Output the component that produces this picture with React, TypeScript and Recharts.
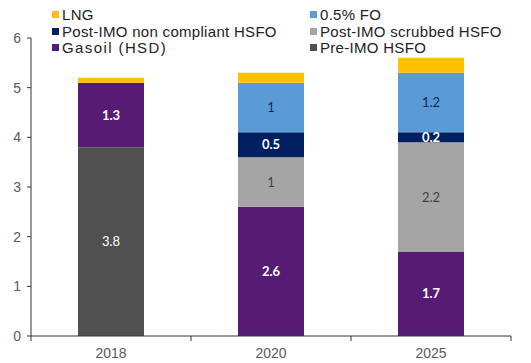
import React from 'react';
import { BarChart, Bar, XAxis, YAxis, LabelList, Legend } from 'recharts';

const categories = ['2018', '2020', '2025'];
const preImoHsfo = [3.8, null, null];
const gasoil = [1.3, 2.6, 1.7];
const scrubbedHsfo = [null, 1, 2.2];
const nonCompliantHsfo = [null, 0.5, 0.2];
const fo05 = [null, 1, 1.2];
const lng = [0.1, 0.2, 0.3];
const yTicks = [0, 1, 2, 3, 4, 5, 6];

const legendItems = [
  { name: 'LNG', color: '#FFC000' },
  { name: '0.5% FO', color: '#5B9BD5' },
  { name: 'Post-IMO non compliant HSFO', color: '#002060' },
  { name: 'Post-IMO scrubbed HSFO', color: '#A5A5A5' },
  { name: 'Gasoil (HSD)', color: '#561C73' },
  { name: 'Pre-IMO HSFO', color: '#505050' },
];

const data = categories.map((c, i) => ({
  year: c,
  pre: preImoHsfo[i],
  gas: gasoil[i],
  scr: scrubbedHsfo[i],
  nc: nonCompliantHsfo[i],
  fo: fo05[i],
  lng: lng[i],
}));

const W = 531;
const H = 363;
const PLOT_LEFT = 31;
const PLOT_RIGHT = 511;
const BAND = (PLOT_RIGHT - PLOT_LEFT) / categories.length;

const XTick = (props: any) => {
  const { x, y, payload, index } = props;
  const last = index === categories.length - 1;
  return (
    <g>
      <line x1={x - BAND / 2} y1={y} x2={x - BAND / 2} y2={y + 5} stroke="#333" />
      {last && <line x1={x + BAND / 2} y1={y} x2={x + BAND / 2} y2={y + 5} stroke="#333" />}
      <text x={x} y={y + 22} textAnchor="middle" fill="#595959" fontSize={14} fontFamily="Liberation Sans, Arial, sans-serif">
        {payload.value}
      </text>
    </g>
  );
};

const LegendContent = () => (
  <div style={{ position: 'relative', width: W, height: 0 }}>
    {legendItems.map((it, i) => {
      const col = i % 2;
      const row = Math.floor(i / 2);
      const left = col === 0 ? 52 : 310;
      const top = 6 + row * 16.5;
      const isGas = it.name === 'Gasoil (HSD)';
      return (
        <div key={it.name} style={{ position: 'absolute', left, top, display: 'flex', alignItems: 'center', whiteSpace: 'nowrap' }}>
          <span style={{ display: 'inline-block', width: 7, height: 7, background: it.color, marginRight: 3 }} />
          <span style={{ fontFamily: 'Liberation Sans, Arial, sans-serif', fontSize: 15, lineHeight: '17px', color: '#222', letterSpacing: isGas ? 1.4 : 0.3 }}>
            {it.name}
          </span>
        </div>
      );
    })}
  </div>
);

const labelFont = 'Lato, "Open Sans", sans-serif';

export default function App() {
  return (
    <div style={{ position: 'absolute', left: 0, top: 0, width: W, height: H, background: '#fff' }}>
      <BarChart width={W} height={H} data={data} margin={{ top: 38, right: W - PLOT_RIGHT, bottom: 0, left: 0 }} barSize={66}>
        <Legend
          verticalAlign="top"
          align="left"
          content={<LegendContent />}
          wrapperStyle={{ position: 'absolute', top: 0, left: 0, height: 0, width: W }}
        />
        <XAxis
          dataKey="year"
          height={27}
          axisLine={{ stroke: '#333' }}
          tickLine={false}
          tickSize={0}
          tickMargin={0}
          tick={<XTick />}
          interval={0}
        />
        <YAxis
          width={PLOT_LEFT}
          domain={[0, 6]}
          ticks={yTicks}
          axisLine={{ stroke: '#333' }}
          tickLine={{ stroke: '#333' }}
          tickSize={4}
          tickMargin={6}
          tick={{ fill: '#595959', fontSize: 14, fontFamily: 'Liberation Sans, Arial, sans-serif' }}
        />
        <Bar dataKey="pre" stackId="a" fill="#505050" isAnimationActive={false}>
          <LabelList dataKey="pre" position="center" fill="#fff" fontSize={13} fontFamily={labelFont} />
        </Bar>
        <Bar dataKey="gas" stackId="a" fill="#561C73" isAnimationActive={false}>
          <LabelList dataKey="gas" position="center" fill="#fff" fontSize={13} fontWeight="bold" fontFamily={labelFont} />
        </Bar>
        <Bar dataKey="scr" stackId="a" fill="#A5A5A5" isAnimationActive={false}>
          <LabelList dataKey="scr" position="center" fill="#404040" fontSize={13} fontFamily={labelFont} />
        </Bar>
        <Bar dataKey="nc" stackId="a" fill="#002060" isAnimationActive={false}>
          <LabelList dataKey="nc" position="center" fill="#fff" fontSize={13} fontWeight="bold" fontFamily={labelFont} />
        </Bar>
        <Bar dataKey="fo" stackId="a" fill="#5B9BD5" isAnimationActive={false}>
          <LabelList dataKey="fo" position="center" fill="#0F2A5A" fontSize={13} fontFamily={labelFont} />
        </Bar>
        <Bar dataKey="lng" stackId="a" fill="#FFC000" isAnimationActive={false} />
      </BarChart>
    </div>
  );
}
